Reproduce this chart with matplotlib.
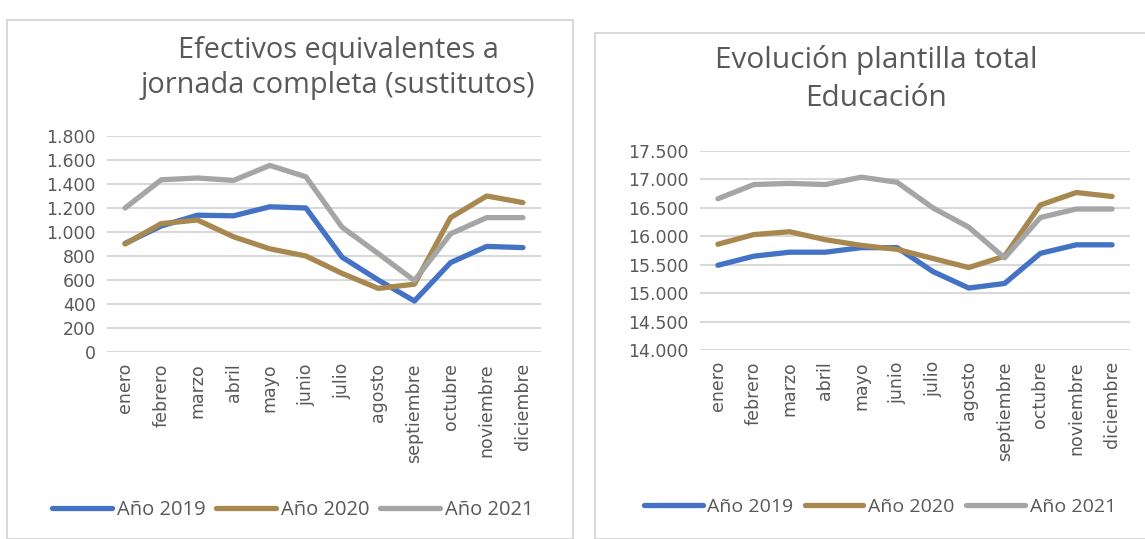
import matplotlib.pyplot as plt
from matplotlib.patches import Rectangle
from matplotlib.ticker import FuncFormatter

meses = ['enero', 'febrero', 'marzo', 'abril', 'mayo', 'junio', 'julio',
         'agosto', 'septiembre', 'octubre', 'noviembre', 'diciembre']
series = ['Año 2019', 'Año 2020', 'Año 2021']

# efectivos equivalentes a jornada completa (sustitutos)
sust_2019 = [905, 1050, 1140, 1135, 1210, 1200, 790, 600, 425, 745, 880, 870]
sust_2020 = [900, 1070, 1100, 960, 860, 800, 655, 530, 565, 1120, 1300, 1245]
sust_2021 = [1200, 1435, 1450, 1430, 1555, 1460, 1040, 820, 595, 985, 1120, 1120]

# plantilla total educacion
tot_2019 = [15490, 15650, 15720, 15720, 15800, 15800, 15380, 15090, 15170, 15700, 15850, 15850]
tot_2020 = [15860, 16030, 16080, 15940, 15840, 15770, 15610, 15450, 15650, 16550, 16770, 16700]
tot_2021 = [16660, 16910, 16930, 16910, 17040, 16950, 16500, 16160, 15620, 16330, 16480, 16480]

colores = ['#4472C4', '#A8884F', '#A5A5A5']
gris_txt = '#595959'
W, H = 1145, 539

fig = plt.figure(figsize=(W / 100, H / 100), dpi=100, facecolor='w')

# marcos de los dos graficos
fig.patches.append(Rectangle((7 / W, 0), (573 - 7) / W, 1 - 20 / H, transform=fig.transFigure,
                             fill=False, edgecolor='#d9d9d9', lw=1.5))
fig.patches.append(Rectangle((595 / W, 0), (1160 - 595) / W, 1 - 33 / H, transform=fig.transFigure,
                             fill=False, edgecolor='#d9d9d9', lw=1.5))


def miles(v, pos):
    return f'{int(v):,}'.replace(',', '.')


def dibujar(rect, datos, ylim, paso):
    ax = fig.add_axes(rect)
    for d, c, lab in zip(datos, colores, series):
        ax.plot(range(len(meses)), d, color=c, lw=3.8, label=lab, solid_capstyle='round')
    ax.set_xlim(-0.5, len(meses) - 0.5)
    ax.set_ylim(*ylim)
    ax.set_yticks(range(ylim[0], ylim[1] + 1, paso))
    ax.yaxis.set_major_formatter(FuncFormatter(miles))
    ax.set_xticks(range(len(meses)))
    ax.set_xticklabels(meses, rotation=90)
    ax.grid(axis='y', color='#d9d9d9', lw=1.5)
    ax.set_axisbelow(True)
    for s in ax.spines.values():
        s.set_visible(False)
    ax.tick_params(length=0, colors=gris_txt, labelsize=12.5, pad=8)
    return ax


ax1 = dibujar([107 / W, 1 - 352 / H, (541 - 107) / W, (352 - 136) / H],
              [sust_2019, sust_2020, sust_2021], (0, 1800), 200)
ax2 = dibujar([700 / W, 1 - 350 / H, (1130 - 700) / W, (350 - 151) / H],
              [tot_2019, tot_2020, tot_2021], (14000, 17500), 500)

fig.text(338 / W, 1 - 68 / H, 'Efectivos equivalentes a\njornada completa (sustitutos)',
         ha='center', va='center', fontsize=20.8, color=gris_txt, family='Open Sans',
         linespacing=1.3)
fig.text(876 / W, 1 - 79 / H, 'Evolución plantilla total\nEducación',
         ha='center', va='center', fontsize=21.5, color=gris_txt, family='Open Sans',
         linespacing=1.45)

for ax, cx, cy, sep in [(ax1, 293, 510, 0.5), (ax2, 880, 507, 0.6)]:
    ax.legend(loc='center', bbox_to_anchor=(cx / W, 1 - cy / H), bbox_transform=fig.transFigure,
              ncol=3, frameon=False, handlelength=3.0, handletextpad=0.25, columnspacing=sep,
              labelcolor=gris_txt, prop={'family': 'Open Sans', 'size': 14.5 if ax is ax1 else 14})

plt.savefig('out.png', dpi=100)
